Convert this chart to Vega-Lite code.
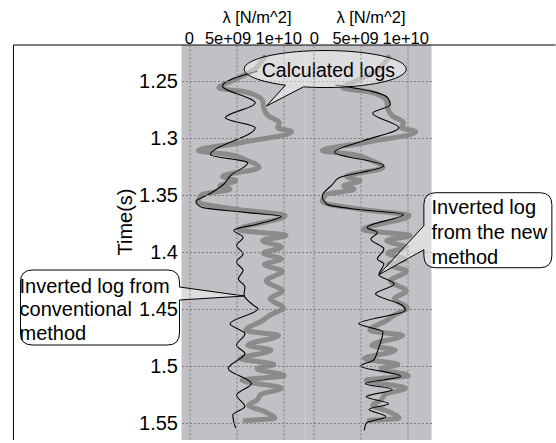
{
"$schema": "https://vega.github.io/schema/vega-lite/v6.json",
"background": "white",
"autosize": {"type": "pad"},
"padding": {"left": 12.5, "top": 9, "right": 0, "bottom": 0.5},
"bounds": "flush",
"spacing": 0,
"config": {
  "font": "Liberation Sans",
  "view": {"stroke": null, "fill": "#c1c1c5"},
  "axis": {"grid": true, "gridColor": "#7f7f7f", "gridDash": [2, 2], "gridWidth": 1, "domain": false, "ticks": false, "labelColor": "black", "titleColor": "black", "titleFontWeight": "normal", "labelFont": "Liberation Sans", "titleFont": "Liberation Sans"},
  "line": {"interpolate": "monotone", "orient": "horizontal"}
},
"datasets": {
  "calc": [
    {"time":1.2290,"lambda":8.0e9},{"time":1.2317,"lambda":7.8e9},{"time":1.2404,"lambda":6.8e9},{"time":1.2500,"lambda":4.5e9},
    {"time":1.2561,"lambda":3.1e9},{"time":1.2596,"lambda":6.0e9},{"time":1.2675,"lambda":7.8e9},{"time":1.2736,"lambda":7.9e9},
    {"time":1.2805,"lambda":8.4e9},{"time":1.2866,"lambda":9.6e9},{"time":1.2910,"lambda":9.4e9},{"time":1.2945,"lambda":10.9e9},
    {"time":1.3041,"lambda":5.4e9},{"time":1.3111,"lambda":0.9e9},{"time":1.3146,"lambda":4.3e9},{"time":1.3189,"lambda":5.9e9},
    {"time":1.3259,"lambda":7.4e9},{"time":1.3338,"lambda":3.5e9},{"time":1.3375,"lambda":4.9e9},{"time":1.3420,"lambda":3.2e9},
    {"time":1.3450,"lambda":4.3e9},{"time":1.3495,"lambda":1.3e9},{"time":1.3560,"lambda":0.9e9},{"time":1.3625,"lambda":5.0e9},
    {"time":1.3681,"lambda":10.2e9},{"time":1.3805,"lambda":5.3e9},{"time":1.3855,"lambda":10.3e9},{"time":1.3899,"lambda":7.8e9},
    {"time":1.3957,"lambda":9.8e9},{"time":1.4010,"lambda":7.9e9},{"time":1.4062,"lambda":9.8e9},{"time":1.4110,"lambda":8.0e9},
    {"time":1.4167,"lambda":9.9e9},{"time":1.4254,"lambda":8.2e9},{"time":1.4341,"lambda":9.9e9},{"time":1.4411,"lambda":8.6e9},
    {"time":1.4490,"lambda":10.0e9},{"time":1.4553,"lambda":8.6e9},{"time":1.4600,"lambda":7.8e9},{"time":1.4688,"lambda":6.0e9},
    {"time":1.4731,"lambda":9.5e9},{"time":1.4818,"lambda":6.2e9},{"time":1.4862,"lambda":8.7e9},{"time":1.4935,"lambda":5.4e9},
    {"time":1.4985,"lambda":9.0e9},{"time":1.5025,"lambda":7.2e9},{"time":1.5085,"lambda":10.1e9},{"time":1.5125,"lambda":5.6e9},
    {"time":1.5195,"lambda":9.8e9},{"time":1.5250,"lambda":7.6e9},{"time":1.5300,"lambda":7.2e9},{"time":1.5345,"lambda":6.3e9},
    {"time":1.5400,"lambda":8.0e9},{"time":1.5458,"lambda":9.1e9},{"time":1.5478,"lambda":5.9e9}
  ],
  "conv": [
    {"time":1.2413,"lambda":7.25e9},{"time":1.2544,"lambda":3.5e9},{"time":1.2692,"lambda":7.0e9},{"time":1.2823,"lambda":3.8e9},
    {"time":1.2910,"lambda":7.0e9},{"time":1.3146,"lambda":2.2e9},{"time":1.3216,"lambda":6.2e9},{"time":1.3329,"lambda":4.35e9},
    {"time":1.3408,"lambda":3.6e9},{"time":1.3495,"lambda":2.0e9},{"time":1.3556,"lambda":0.65e9},{"time":1.3608,"lambda":1.25e9},
    {"time":1.3652,"lambda":5.95e9},{"time":1.3687,"lambda":9.8e9},{"time":1.3748,"lambda":7.6e9},{"time":1.3809,"lambda":4.7e9},
    {"time":1.3870,"lambda":5.7e9},{"time":1.3942,"lambda":5.0e9},{"time":1.4016,"lambda":5.7e9},{"time":1.4088,"lambda":5.0e9},
    {"time":1.4161,"lambda":5.7e9},{"time":1.4234,"lambda":5.2e9},{"time":1.4306,"lambda":5.9e9},{"time":1.4375,"lambda":5.8e9},
    {"time":1.4466,"lambda":6.8e9},{"time":1.4498,"lambda":7.3e9},{"time":1.4629,"lambda":4.3e9},{"time":1.4716,"lambda":5.9e9},
    {"time":1.4818,"lambda":5.0e9},{"time":1.4891,"lambda":5.9e9},{"time":1.5022,"lambda":4.1e9},{"time":1.5153,"lambda":6.6e9},
    {"time":1.5255,"lambda":5.0e9},{"time":1.5356,"lambda":5.9e9},{"time":1.5429,"lambda":4.6e9},{"time":1.5545,"lambda":4.9e9}
  ],
  "new": [
    {"time":1.2535,"lambda":2.3e9},{"time":1.2593,"lambda":6.3e9},{"time":1.2645,"lambda":7.9e9},{"time":1.2709,"lambda":8.2e9},
    {"time":1.2782,"lambda":6.3e9},{"time":1.2910,"lambda":9.1e9},{"time":1.3026,"lambda":5.2e9},{"time":1.3125,"lambda":2.2e9},
    {"time":1.3244,"lambda":7.5e9},{"time":1.3349,"lambda":2.7e9},{"time":1.3407,"lambda":2.0e9},{"time":1.3509,"lambda":0.9e9},
    {"time":1.3581,"lambda":1.4e9},{"time":1.3625,"lambda":4.5e9},{"time":1.3669,"lambda":9.6e9},{"time":1.3785,"lambda":5.7e9},
    {"time":1.3829,"lambda":6.8e9},{"time":1.3887,"lambda":6.1e9},{"time":1.3974,"lambda":7.5e9},{"time":1.4061,"lambda":6.8e9},
    {"time":1.4105,"lambda":7.5e9},{"time":1.4199,"lambda":6.96e9},{"time":1.4280,"lambda":8.6e9},{"time":1.4367,"lambda":6.6e9},
    {"time":1.4469,"lambda":9.5e9},{"time":1.4511,"lambda":9.8e9},{"time":1.4628,"lambda":4.8e9},{"time":1.4700,"lambda":7.4e9},
    {"time":1.4802,"lambda":7.1e9},{"time":1.4875,"lambda":6.8e9},{"time":1.4948,"lambda":6.4e9},{"time":1.5000,"lambda":5.0e9},
    {"time":1.5090,"lambda":9.3e9},{"time":1.5155,"lambda":5.5e9},{"time":1.5205,"lambda":8.4e9},{"time":1.5270,"lambda":5.6e9},
    {"time":1.5330,"lambda":8.0e9},{"time":1.5380,"lambda":5.9e9},{"time":1.5445,"lambda":7.7e9},{"time":1.5500,"lambda":5.6e9},
    {"time":1.5565,"lambda":5.4e9}
  ]
},
"hconcat": [
  {
    "width": 124, "height": 395,
    "layer": [
      {"data": {"name": "calc"},
       "mark": {"type": "line", "color": "#8b8b8b", "strokeWidth": 5, "strokeCap": "round", "strokeJoin": "round", "interpolate": "monotone", "orient": "horizontal"},
       "encoding": {
         "x": {"field": "lambda", "type": "quantitative", "scale": {"domain": [-0.9e9, 12.39e9], "nice": false, "zero": false},
               "axis": {"orient": "top", "values": [0, 5e9, 1e10], "labelExpr": "datum.value == 0 ? '0' : (datum.value == 5e9 ? '5e+09' : '1e+10')", "labelFontSize": 16.5, "labelPadding": 2, "labelOffset": {"condition": [{"test": "datum.value == 0", "value": -1}, {"test": "datum.value == 5e9", "value": -9}], "value": -5}, "labelBaseline": "alphabetic", "title": "λ [N/m^2]", "titleFontSize": 16.5, "titleX": 75, "titleY": -23, "titleBaseline": "alphabetic", "titleAlign": "center", "zindex": 1}},
         "y": {"field": "time", "type": "quantitative", "scale": {"domain": [1.2184, 1.5649], "reverse": true, "nice": false, "zero": false},
               "axis": {"values": [1.25, 1.3, 1.35, 1.4, 1.45, 1.5, 1.55], "format": "~g", "labelFontSize": 20, "labelPadding": 4, "title": "Time(s)", "titleFontSize": 20, "titleX": -50, "titleY": 176.5, "titleAngle": -90, "titleAlign": "center", "titleBaseline": "alphabetic", "zindex": 1}},
         "order": {"field": "time"}
       }},
      {"data": {"name": "conv"},
       "mark": {"type": "line", "color": "black", "strokeWidth": 1.1, "interpolate": "monotone", "orient": "horizontal"},
       "encoding": {
         "x": {"field": "lambda", "type": "quantitative", "scale": {"domain": [-0.9e9, 12.39e9], "nice": false, "zero": false}},
         "y": {"field": "time", "type": "quantitative", "scale": {"domain": [1.2184, 1.5649], "reverse": true, "nice": false, "zero": false}},
         "order": {"field": "time"}
       }},
      {"data": {"values": [{}]},
       "mark": {"type": "rule", "color": "black", "strokeWidth": 1},
       "encoding": {"x": {"datum": -1.891e10, "type": "quantitative"}, "y": {"datum": 1.2184, "type": "quantitative"}, "y2": {"datum": 1.5649}}},
      {"data": {"values": [{}]},
       "mark": {"type": "rule", "color": "black", "strokeWidth": 1},
       "encoding": {"x": {"datum": -1.891e10, "type": "quantitative"}, "x2": {"datum": 1.239e10}, "y": {"datum": 1.2184, "type": "quantitative"}}},
      {"data": {"values": [{}]},
       "mark": {"type": "point", "shape": "M -212 -26 L -77 -26 Q -65 -26 -65 -14 L -65 -9 L 0 0 L -65 4 L -65 37 Q -65 49 -77 49 L -212 49 Q -224 49 -224 37 L -224 -14 Q -224 -26 -212 -26 Z", "size": 4, "fill": "white", "fillOpacity": 0.45, "stroke": "black", "strokeWidth": 1, "opacity": 1},
       "encoding": {"x": {"datum": 5.85e9, "type": "quantitative"}, "y": {"datum": 1.4386, "type": "quantitative"}}},
      {"data": {"values": [{}]},
       "mark": {"type": "text", "align": "left", "baseline": "alphabetic", "fontSize": 20, "lineHeight": 23.3, "color": "black"},
       "encoding": {"x": {"datum": -1.826e10, "type": "quantitative"}, "y": {"datum": 1.436, "type": "quantitative"}, "text": {"value": ["Inverted log from", "conventional", "method"]}}}
    ]
  },
  {
    "width": 126, "height": 395,
    "layer": [
      {"data": {"name": "calc"},
       "mark": {"type": "line", "color": "#8b8b8b", "strokeWidth": 5, "strokeCap": "round", "strokeJoin": "round", "interpolate": "monotone", "orient": "horizontal"},
       "encoding": {
         "x": {"field": "lambda", "type": "quantitative", "scale": {"domain": [-0.9e9, 12.6e9], "nice": false, "zero": false},
               "axis": {"orient": "top", "values": [0, 5e9, 1e10], "labelExpr": "datum.value == 0 ? '0' : (datum.value == 5e9 ? '5e+09' : '1e+10')", "labelFontSize": 16.5, "labelPadding": 2, "labelOffset": {"condition": [{"test": "datum.value == 0", "value": 0}, {"test": "datum.value == 5e9", "value": -5.5}], "value": -2}, "labelBaseline": "alphabetic", "title": "λ [N/m^2]", "titleFontSize": 16.5, "titleX": 65, "titleY": -23, "titleBaseline": "alphabetic", "titleAlign": "center", "zindex": 1}},
         "y": {"field": "time", "type": "quantitative", "scale": {"domain": [1.2184, 1.5649], "reverse": true, "nice": false, "zero": false},
               "axis": {"values": [1.25, 1.3, 1.35, 1.4, 1.45, 1.5, 1.55], "labels": false, "title": null}},
         "order": {"field": "time"}
       }},
      {"data": {"name": "new"},
       "mark": {"type": "line", "color": "black", "strokeWidth": 1.1, "interpolate": "monotone", "orient": "horizontal"},
       "encoding": {
         "x": {"field": "lambda", "type": "quantitative", "scale": {"domain": [-0.9e9, 12.6e9], "nice": false, "zero": false}},
         "y": {"field": "time", "type": "quantitative", "scale": {"domain": [1.2184, 1.5649], "reverse": true, "nice": false, "zero": false}},
         "order": {"field": "time"}
       }},
      {"data": {"values": [{}]},
       "mark": {"type": "rule", "color": "black", "strokeWidth": 1},
       "encoding": {"x": {"datum": -0.9e9, "type": "quantitative"}, "x2": {"datum": 2.59e10}, "y": {"datum": 1.2184, "type": "quantitative"}}},
      {"data": {"values": [{}]},
       "mark": {"type": "point", "shape": "M -40 16.1 L -59 37 L -22 17.8 A 81 18.5 0 1 0 -40 16.1 Z", "size": 4, "fill": "white", "fillOpacity": 0.45, "stroke": "black", "strokeWidth": 1, "opacity": 1},
       "encoding": {"x": {"datum": 1.24e9, "type": "quantitative"}, "y": {"datum": 1.2395, "type": "quantitative"}}},
      {"data": {"values": [{}]},
       "mark": {"type": "text", "align": "center", "baseline": "alphabetic", "fontSize": 19.5, "color": "black"},
       "encoding": {"x": {"datum": 1.56e9, "type": "quantitative"}, "y": {"datum": 1.2465, "type": "quantitative"}, "text": {"value": "Calculated logs"}}},
      {"data": {"values": [{}]},
       "mark": {"type": "point", "shape": "M 57 -82 L 161 -82 Q 173 -82 173 -70 L 173 -19 Q 173 -7 161 -7 L 57 -7 Q 45 -7 45 -19 L 45 -25 L 0 0 L 45 -49 L 45 -70 Q 45 -82 57 -82 Z", "size": 4, "fill": "white", "fillOpacity": 0.45, "stroke": "black", "strokeWidth": 1, "opacity": 1},
       "encoding": {"x": {"datum": 6.96e9, "type": "quantitative"}, "y": {"datum": 1.4199, "type": "quantitative"}}},
      {"data": {"values": [{}]},
       "mark": {"type": "text", "align": "left", "baseline": "alphabetic", "fontSize": 20, "lineHeight": 25, "color": "black"},
       "encoding": {"x": {"datum": 12.6e9, "type": "quantitative"}, "y": {"datum": 1.3667, "type": "quantitative"}, "text": {"value": ["Inverted log", "from the new", "method"]}}}
    ]
  }
]
}
